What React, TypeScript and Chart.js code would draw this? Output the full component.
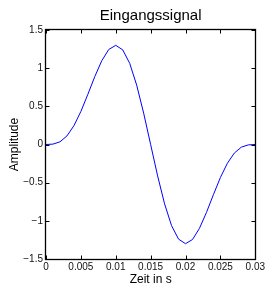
import React, { useEffect, useRef } from "react";
import { Chart, registerables } from "chart.js";

Chart.register(...registerables);

const titleText = "Eingangssignal";
const xAxisLabel = "Zeit in s";
const yAxisLabel = "Amplitude";

const times = [
  0, 0.001, 0.002, 0.003, 0.004, 0.005, 0.006, 0.007, 0.008, 0.009, 0.01,
  0.011, 0.012, 0.013, 0.014, 0.015, 0.016, 0.017, 0.018, 0.019, 0.02,
  0.021, 0.022, 0.023, 0.024, 0.025, 0.026, 0.027, 0.028, 0.029, 0.03,
];
const amplitudes = [
  0, 0.005, 0.035, 0.112, 0.246, 0.433, 0.657, 0.891, 1.098, 1.245, 1.299,
  1.24, 1.063, 0.778, 0.411, 0, -0.411, -0.778, -1.063, -1.24, -1.299,
  -1.245, -1.098, -0.891, -0.657, -0.433, -0.246, -0.112, -0.035, -0.005, 0,
];
const xTickLabels = ["0", "0.005", "0.01", "0.015", "0.02", "0.025", "0.03"];
const yTickLabels = ["\u22121.5", "\u22121", "\u22120.5", "0", "0.5", "1", "1.5"];

const FONT = "'Liberation Sans', Arial, Helvetica, sans-serif";

const boxPlugin = {
  id: "matlabBox",
  afterDatasetsDraw(chart: any) {
    const { ctx, chartArea: a, scales } = chart;
    const len = 4;
    ctx.save();
    ctx.strokeStyle = "#000";
    ctx.lineWidth = 1;
    ctx.beginPath();
    const L = Math.round(a.left) - 0.5;
    const R = Math.round(a.right) + 0.5;
    const T = Math.round(a.top) - 0.5;
    const B = Math.round(a.bottom) + 0.5;
    scales.x.ticks.forEach((t: any) => {
      const x = Math.round(scales.x.getPixelForValue(t.value)) + 0.5;
      ctx.moveTo(x, B);
      ctx.lineTo(x, B - len);
      ctx.moveTo(x, T);
      ctx.lineTo(x, T + len);
    });
    scales.y.ticks.forEach((t: any) => {
      const y = Math.round(scales.y.getPixelForValue(t.value)) + 0.5;
      ctx.moveTo(L, y);
      ctx.lineTo(L + len, y);
      ctx.moveTo(R, y);
      ctx.lineTo(R - len, y);
    });
    ctx.stroke();
    ctx.lineWidth = 1.3;
    ctx.strokeRect(L, T, R - L, B - T);
    ctx.restore();
  },
};

export default function App() {
  const ref = useRef<HTMLCanvasElement>(null);
  useEffect(() => {
    if (!ref.current) return;
    const chart = new Chart(ref.current, {
      type: "line",
      data: {
        datasets: [
          {
            data: times.map((t, i) => ({ x: t, y: amplitudes[i] })),
            borderColor: "#0000ff",
            borderWidth: 1,
            pointRadius: 0,
            tension: 0,
            fill: false,
          },
        ],
      },
      options: {
        animation: false,
        responsive: false,
        layout: { padding: { left: 0, right: 11, top: 0, bottom: 0 } },
        plugins: {
          legend: { display: false },
          tooltip: { enabled: false },
          title: {
            display: true,
            text: titleText,
            fullSize: false,
            color: "#000",
            font: { family: FONT, size: 15, weight: "normal" },
            padding: { top: 7, bottom: 5 },
          },
        },
        scales: {
          x: {
            type: "linear",
            min: 0,
            max: 0.03,
            afterFit: (s: any) => {
              s.height = 26;
            },
            afterBuildTicks: (s: any) => {
              s.ticks = xTickLabels.map((_, i) => ({ value: i * 0.005 }));
            },
            ticks: {
              color: "#111",
              font: { family: FONT, size: 10 },
              padding: 2,
              maxRotation: 0,
              autoSkip: false,
              callback: (_v: any, i: number) => xTickLabels[i],
            },
            grid: { display: false, drawTicks: false },
            border: { display: false },
            title: {
              display: true,
              text: xAxisLabel,
              color: "#000",
              font: { family: FONT, size: 12 },
              padding: { top: 0, bottom: -2 },
            },
          },
          y: {
            type: "linear",
            min: -1.5,
            max: 1.5,
            afterFit: (s: any) => {
              s.width = 46;
            },
            afterBuildTicks: (s: any) => {
              s.ticks = yTickLabels.map((_, i) => ({ value: -1.5 + i * 0.5 }));
            },
            ticks: {
              color: "#111",
              font: { family: FONT, size: 10 },
              padding: 3,
              autoSkip: false,
              callback: (_v: any, i: number) => yTickLabels[i],
            },
            grid: { display: false, drawTicks: false },
            border: { display: false },
            title: {
              display: true,
              text: yAxisLabel,
              color: "#000",
              font: { family: FONT, size: 12 },
              padding: { top: 7, bottom: 0 },
            },
          },
        },
      },
      plugins: [boxPlugin],
    });
    return () => chart.destroy();
  }, []);
  return (
    <div style={{ position: "fixed", left: 0, top: 0, width: 267, height: 285, background: "#fff" }}>
      <canvas ref={ref} width={267} height={285} style={{ display: "block", width: 267, height: 285 }} />
    </div>
  );
}
